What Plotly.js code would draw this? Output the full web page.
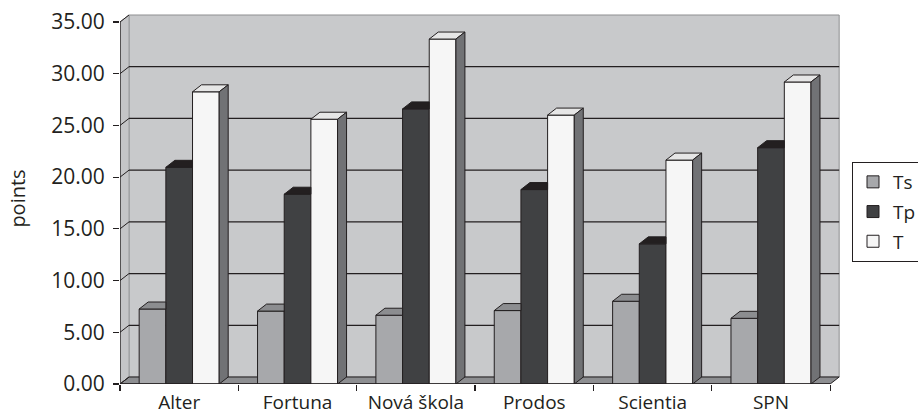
<!DOCTYPE html>
<html>
<head>
<meta charset="utf-8">
<script src="https://cdn.plot.ly/plotly-3.0.1.min.js"></script>
<style>html,body{margin:0;padding:0;background:#fff;}#chart{width:918px;height:417px;}</style>
</head>
<body>
<div id="chart"></div>
<script>
// ---- data ----
const categories = ["Alter", "Fortuna", "Nová škola", "Prodos", "Scientia", "SPN"];
const seriesNames = ["Ts", "Tp", "T"];
const tsValues = [7.25, 7.05, 6.65, 7.10, 8.00, 6.35];
const tpValues = [20.95, 18.35, 26.60, 18.80, 13.55, 22.85];
const tValues  = [28.25, 25.60, 33.35, 26.00, 21.65, 29.20];
const yTicks = [0, 5, 10, 15, 20, 25, 30, 35];

// ---- styling ----
const frontColors = ["#a7a8ab", "#404143", "#f6f6f6"];
const topColors   = ["#8c8d90", "#231f20", "#e6e6e6"];
const sideColor   = "#717275";
const edge = "#231f20";
const FONT = "Open Sans, Noto Sans, sans-serif";

const W = 918, H = 417;
const mL = 120, mR = 76, mT = 13, mB = 33;
const xRange = [-0.5, 5.6];
const yRange = [0, 35.87];
const pxPerX = (W - mL - mR) / (xRange[1] - xRange[0]);
const pxPerY = (H - mT - mB) / (yRange[1] - yRange[0]);
const dx = 9 / pxPerX;   // depth offset in x units
const dy = 7 / pxPerY;   // depth offset in y units
const bargap = 0.324;
const bw = (1 - bargap) / 3;

const allSeries = [tsValues, tpValues, tValues];
const xIdx = categories.map((c, i) => i);

const traces = [];
allSeries.forEach((vals, s) => {
  traces.push({
    type: "bar", name: seriesNames[s], x: xIdx, y: vals,
    marker: {color: frontColors[s], line: {color: edge, width: 1}},
    legendgroup: "g" + s, hoverinfo: "skip"
  });
});

// 3D faces derived from the data values
allSeries.forEach((vals, s) => {
  const tx = [], ty = [], sx = [], sy = [];
  vals.forEach((v, j) => {
    const x0 = j - 1.5 * bw + s * bw, x1 = x0 + bw;
    if (s < 2) {
      tx.push(x0, x0 + dx, x1, x1, x0, null);
      ty.push(v, v + dy, v + dy, v, v, null);
    } else {
      tx.push(x0, x0 + dx, x1 + dx, x1, x0, null);
      ty.push(v, v + dy, v + dy, v, v, null);
      sx.push(x1, x1 + dx, x1 + dx, x1, x1, null);
      sy.push(v, v + dy, dy, 0, v, null);
    }
  });
  traces.push({type: "scatter", mode: "lines", x: tx, y: ty, fill: "toself",
    fillcolor: topColors[s], line: {color: edge, width: 1}, showlegend: false, hoverinfo: "skip"});
  if (sx.length) traces.push({type: "scatter", mode: "lines", x: sx, y: sy, fill: "toself",
    fillcolor: sideColor, line: {color: edge, width: 1}, showlegend: false, hoverinfo: "skip"});
});
// dummy for boundary tick axis
traces.push({type: "scatter", x: [null], y: [null], xaxis: "x2", showlegend: false, hoverinfo: "skip"});

const xl = -0.5, xr = categories.length - 0.5;
let grid = "", diag = "";
yTicks.forEach(v => {
  if (v > 0 && v < 35) grid += `M${xl + dx},${v + dy} L${xr + dx},${v + dy} `;
  diag += `M${xl},${v} L${xl + dx},${v + dy} `;
});

const shapes = [
  {type: "rect", xref: "x", yref: "y", x0: xl + dx, x1: xr + dx, y0: dy, y1: 35 + dy,
    fillcolor: "#c8c9cb", line: {color: "#8e8f91", width: 1}, layer: "below"},
  {type: "path", xref: "x", yref: "y",
    path: `M${xl},0 L${xl + dx},${dy} L${xl + dx},${35 + dy} L${xl},35 Z`,
    fillcolor: "#c4c5c7", line: {color: "#9a9b9d", width: 1}, layer: "below"},
  {type: "path", xref: "x", yref: "y",
    path: `M${xl},0 L${xr},0 L${xr + dx},${dy} L${xl + dx},${dy} Z`,
    fillcolor: "#8d8e91", line: {color: edge, width: 1}, layer: "below"},
  {type: "path", xref: "x", yref: "y", path: grid, line: {color: edge, width: 1.2}, layer: "below"},
  {type: "path", xref: "x", yref: "y", path: diag, line: {color: edge, width: 1}, layer: "below"},
  {type: "line", xref: "x", yref: "y", x0: xl, x1: xl, y0: 0, y1: 35, line: {color: edge, width: 1.3}, layer: "above"},
  {type: "line", xref: "x", yref: "y", x0: xl, x1: xr, y0: 0, y1: 0, line: {color: edge, width: 1.3}, layer: "above"}
];

const layout = {
  width: W, height: H,
  margin: {l: mL, r: mR, t: mT, b: mB, pad: 0, autoexpand: false},
  paper_bgcolor: "#fff", plot_bgcolor: "#fff",
  font: {family: FONT, color: edge},
  barmode: "group", bargap: bargap, bargroupgap: 0,
  showlegend: true,
  legend: {xref: "container", yref: "container", x: 852 / W, y: (H - 162) / H,
    xanchor: "left", yanchor: "top",
    bordercolor: edge, borderwidth: 1, bgcolor: "#fff", font: {size: 19, family: FONT, color: edge},
    traceorder: "grouped", tracegroupgap: 2},
  xaxis: {range: xRange, tickvals: xIdx, ticktext: categories, ticks: "", showgrid: false,
    zeroline: false, showline: false, ticklabelstandoff: 5,
    tickfont: {size: 19, family: FONT, color: edge}, fixedrange: true},
  xaxis2: {overlaying: "x", anchor: "y", range: xRange,
    tickvals: [-0.5, 0.5, 1.5, 2.5, 3.5, 4.5, 5.5], ticks: "outside", ticklen: 6, tickcolor: edge, tickwidth: 1.2,
    showticklabels: false, showgrid: false, zeroline: false, showline: false, fixedrange: true},
  yaxis: {range: yRange, tickvals: yTicks, tickformat: ".2f", ticks: "outside", ticklen: 6,
    tickcolor: edge, tickwidth: 1.2, showgrid: false, zeroline: false, showline: false,
    ticklabelstandoff: 4,
    tickfont: {size: 21, family: FONT, color: edge},
    title: {text: "points", font: {size: 20, family: FONT, color: edge}, standoff: 20}, fixedrange: true},
  shapes: shapes,
  hovermode: false
};

Plotly.newPlot("chart", traces, layout, {displayModeBar: false, staticPlot: true});
</script>
</body>
</html>
